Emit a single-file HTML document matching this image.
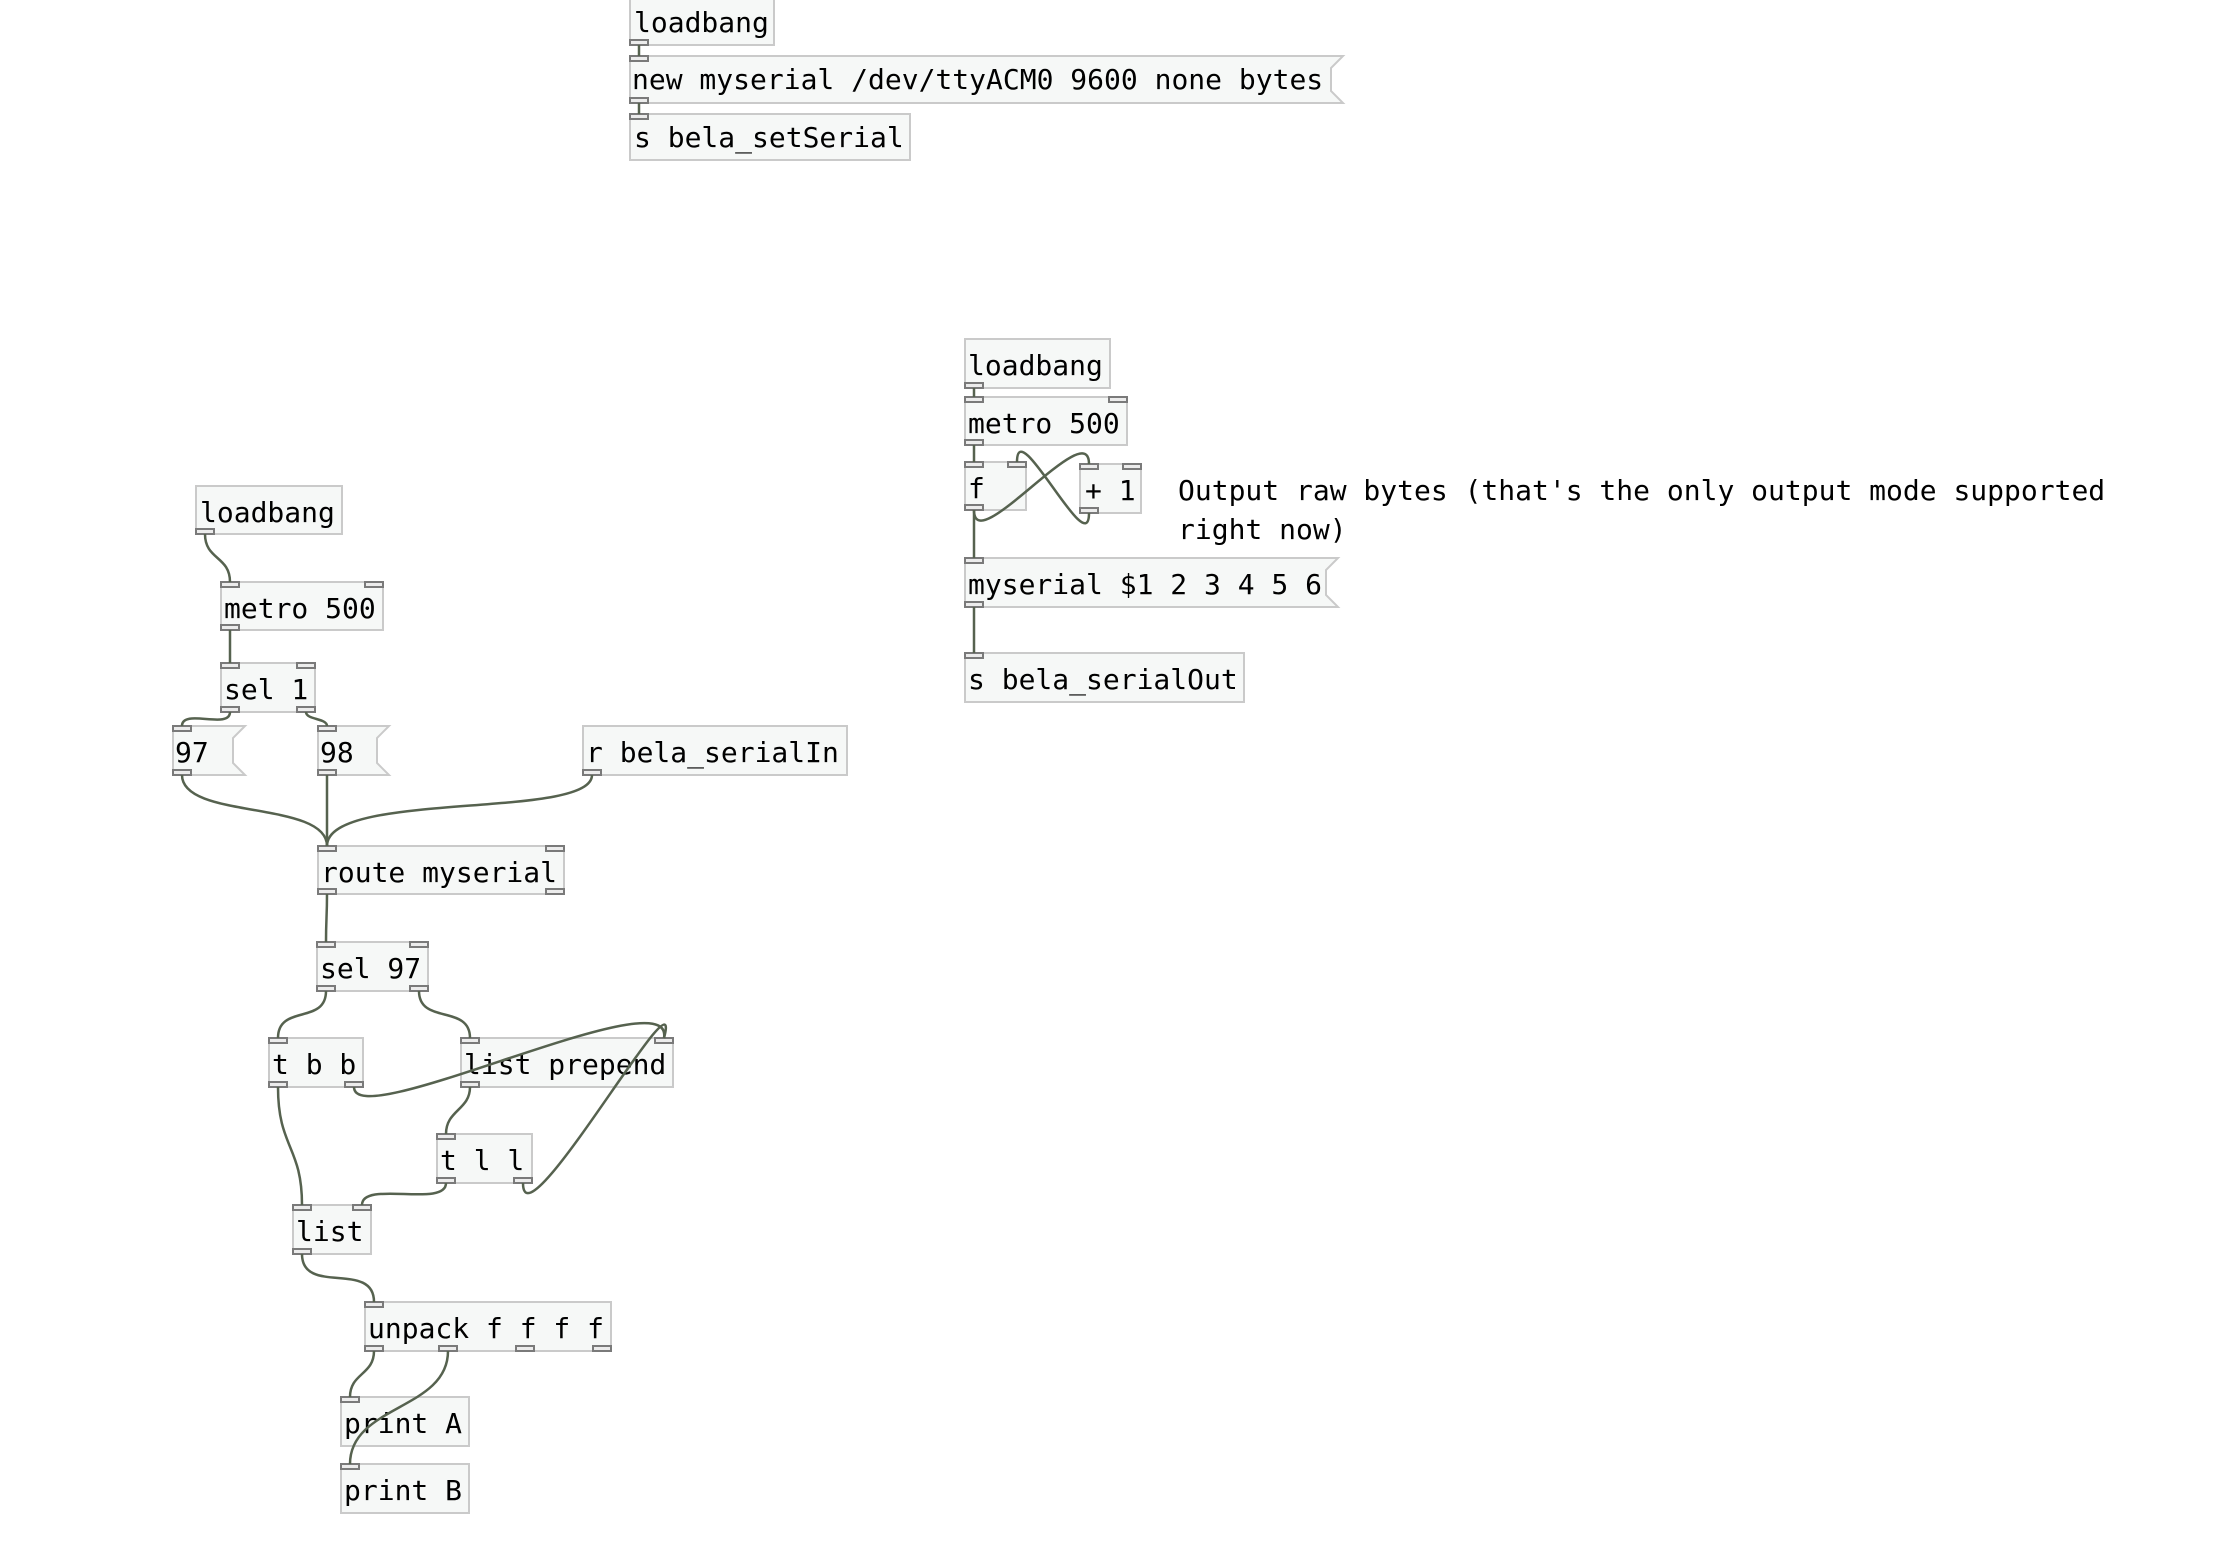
<!DOCTYPE html>
<html><head><meta charset="utf-8"><style>
html,body{margin:0;padding:0;background:#fff;}
svg{display:block;}
text{font-family:"DejaVu Sans Mono","Liberation Mono",monospace;font-size:28px;fill:#000;}
.b{fill:#f6f8f7;stroke:#cacaca;stroke-width:2;}
.p{fill:#ececec;stroke:#7a7a7a;stroke-width:2;}
.c{fill:none;stroke:#56624f;stroke-width:2.5;}
</style></head><body>
<svg width="2226" height="1566" viewBox="0 0 2226 1566" xmlns="http://www.w3.org/2000/svg">
<rect class="b" x="630" y="-2" width="144" height="47"/>
<text x="634" y="32">loadbang</text>
<path class="b" d="M630 56H1343L1331 68V91L1343 103H630Z"/>
<text x="632" y="89">new myserial /dev/ttyACM0 9600 none bytes</text>
<rect class="b" x="630" y="114" width="280" height="46"/>
<text x="634" y="147">s bela_setSerial</text>
<rect class="p" x="630" y="40" width="18" height="5"/>
<rect class="p" x="630" y="56" width="18" height="5"/>
<rect class="p" x="630" y="98" width="18" height="5"/>
<rect class="p" x="630" y="114" width="18" height="5"/>
<rect class="b" x="965" y="339" width="145" height="49"/>
<text x="968" y="375">loadbang</text>
<rect class="b" x="965" y="397" width="162" height="48"/>
<text x="968" y="433">metro 500</text>
<rect class="b" x="965" y="462" width="61" height="48"/>
<text x="968" y="498">f</text>
<rect class="b" x="1080" y="464" width="61" height="49"/>
<text x="1085" y="500">+ 1</text>
<text x="1178" y="500">Output raw bytes (that's the only output mode supported</text>
<text x="1178" y="539">right now)</text>
<path class="b" d="M965 558H1338L1326 570V595L1338 607H965Z"/>
<text x="968" y="594">myserial $1 2 3 4 5 6</text>
<rect class="b" x="965" y="653" width="279" height="49"/>
<text x="968" y="689">s bela_serialOut</text>
<rect class="p" x="965" y="383" width="18" height="5"/>
<rect class="p" x="965" y="397" width="18" height="5"/><rect class="p" x="1109" y="397" width="18" height="5"/><rect class="p" x="965" y="440" width="18" height="5"/>
<rect class="p" x="965" y="462" width="18" height="5"/><rect class="p" x="1008" y="462" width="18" height="5"/><rect class="p" x="965" y="505" width="18" height="5"/>
<rect class="p" x="1080" y="464" width="18" height="5"/><rect class="p" x="1123" y="464" width="18" height="5"/><rect class="p" x="1080" y="508" width="18" height="5"/>
<rect class="p" x="965" y="558" width="18" height="5"/><rect class="p" x="965" y="602" width="18" height="5"/>
<rect class="p" x="965" y="653" width="18" height="5"/>
<rect class="b" x="196" y="486" width="146" height="48"/>
<text x="200" y="522">loadbang</text>
<rect class="b" x="221" y="582" width="162" height="48"/>
<text x="224" y="618">metro 500</text>
<rect class="b" x="221" y="663" width="94" height="49"/>
<text x="224" y="699">sel 1</text>
<path class="b" d="M173 726H245L233 738V763L245 775H173Z"/>
<text x="175" y="762">97</text>
<path class="b" d="M318 726H389L377 738V763L389 775H318Z"/>
<text x="320" y="762">98</text>
<rect class="b" x="583" y="726" width="264" height="49"/>
<text x="586" y="762">r bela_serialIn</text>
<rect class="b" x="318" y="846" width="246" height="48"/>
<text x="321" y="882">route myserial</text>
<rect class="b" x="317" y="942" width="111" height="49"/>
<text x="320" y="978">sel 97</text>
<rect class="b" x="269" y="1038" width="94" height="49"/>
<text x="272" y="1074">t b b</text>
<rect class="b" x="461" y="1038" width="212" height="49"/>
<text x="464" y="1074">list prepend</text>
<rect class="b" x="437" y="1134" width="95" height="49"/>
<text x="440" y="1170">t l l</text>
<rect class="b" x="293" y="1205" width="78" height="49"/>
<text x="296" y="1241">list</text>
<rect class="b" x="365" y="1302" width="246" height="49"/>
<text x="368" y="1338">unpack f f f f</text>
<rect class="b" x="341" y="1397" width="128" height="49"/>
<text x="344" y="1433">print A</text>
<rect class="b" x="341" y="1464" width="128" height="49"/>
<text x="344" y="1500">print B</text>
<g>
<rect class="p" x="196" y="529" width="18" height="5"/>
<rect class="p" x="221" y="582" width="18" height="5"/><rect class="p" x="365" y="582" width="18" height="5"/><rect class="p" x="221" y="625" width="18" height="5"/>
<rect class="p" x="221" y="663" width="18" height="5"/><rect class="p" x="297" y="663" width="18" height="5"/><rect class="p" x="221" y="707" width="18" height="5"/><rect class="p" x="297" y="707" width="18" height="5"/>
<rect class="p" x="173" y="726" width="18" height="5"/><rect class="p" x="173" y="770" width="18" height="5"/>
<rect class="p" x="318" y="726" width="18" height="5"/><rect class="p" x="318" y="770" width="18" height="5"/>
<rect class="p" x="583" y="770" width="18" height="5"/>
<rect class="p" x="318" y="846" width="18" height="5"/><rect class="p" x="546" y="846" width="18" height="5"/><rect class="p" x="318" y="889" width="18" height="5"/><rect class="p" x="546" y="889" width="18" height="5"/>
<rect class="p" x="317" y="942" width="18" height="5"/><rect class="p" x="410" y="942" width="18" height="5"/><rect class="p" x="317" y="986" width="18" height="5"/><rect class="p" x="410" y="986" width="18" height="5"/>
<rect class="p" x="269" y="1038" width="18" height="5"/><rect class="p" x="269" y="1082" width="18" height="5"/><rect class="p" x="345" y="1082" width="18" height="5"/>
<rect class="p" x="461" y="1038" width="18" height="5"/><rect class="p" x="655" y="1038" width="18" height="5"/><rect class="p" x="461" y="1082" width="18" height="5"/>
<rect class="p" x="437" y="1134" width="18" height="5"/><rect class="p" x="437" y="1178" width="18" height="5"/><rect class="p" x="514" y="1178" width="18" height="5"/>
<rect class="p" x="293" y="1205" width="18" height="5"/><rect class="p" x="353" y="1205" width="18" height="5"/><rect class="p" x="293" y="1249" width="18" height="5"/>
<rect class="p" x="365" y="1302" width="18" height="5"/>
<rect class="p" x="365" y="1346" width="18" height="5"/><rect class="p" x="439" y="1346" width="18" height="5"/><rect class="p" x="516" y="1346" width="18" height="5"/><rect class="p" x="593" y="1346" width="18" height="5"/>
<rect class="p" x="341" y="1397" width="18" height="5"/>
<rect class="p" x="341" y="1464" width="18" height="5"/>
</g>
<g class="c">
<path d="M639 45V56"/><path d="M639 103V114"/>
<path d="M974 388V397"/><path d="M974 445V462"/><path d="M974 510V558"/><path d="M974 607V653"/>
<path d="M974 510C974 560 1089 414 1089 464"/>
<path d="M1089 513C1089 563 1017 412 1017 462"/>
<path d="M205 534C205 560 230 556 230 582"/>
<path d="M230 630V663"/>
<path d="M230 712C230 730 182 708 182 726"/>
<path d="M306 712C306 720 327 718 327 726"/>
<path d="M182 775C182 820 327 800 327 846"/>
<path d="M327 775V846"/>
<path d="M592 775C592 820 327 790 327 846"/>
<path d="M327 894C327 918 326 918 326 942"/>
<path d="M326 991C326 1025 278 1004 278 1038"/>
<path d="M419 991C419 1025 470 1004 470 1038"/>
<path d="M354 1087C354 1135 675 975 664 1038"/>
<path d="M278 1087C278 1148 302 1146 302 1205"/>
<path d="M470 1087C470 1110 446 1110 446 1134"/>
<path d="M446 1183C446 1208 362 1180 362 1205"/>
<path d="M523 1183C523 1250 685 960 664 1038"/>
<path d="M302 1254C302 1296 374 1260 374 1302"/>
<path d="M374 1351C374 1375 350 1373 350 1397"/>
<path d="M448 1351C448 1410 350 1405 350 1464"/>
</g>
</svg>
</body></html>
